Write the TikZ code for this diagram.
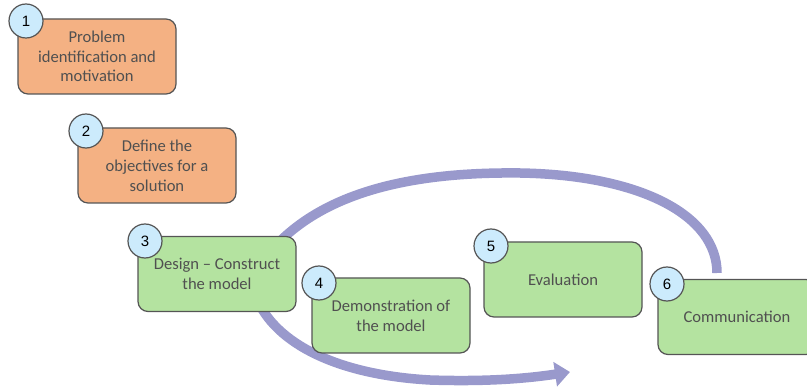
\documentclass[tikz,border=0pt]{standalone}
\usepackage{fontspec}
\setmainfont{Carlito}
\newfontfamily\numfont{Liberation Sans}
\usetikzlibrary{arrows.meta,backgrounds,calc}
\definecolor{stepOrange}{HTML}{F4B183}
\definecolor{stepGreen}{HTML}{B4E3A0}
\definecolor{badgeBlue}{HTML}{CCEBFC}
\definecolor{loopPurple}{HTML}{9999CC}
\definecolor{edgeGray}{HTML}{555555}
\definecolor{textGray}{HTML}{505050}
\tikzset{
  stepbox/.style={draw=edgeGray, line width=1.2pt, rounded corners=10pt,
    minimum width=158pt, minimum height=75pt, align=center,
    text=textGray, font=\fontsize{16.6}{19.8}\selectfont, inner sep=2pt},
  orangebox/.style={stepbox, fill=stepOrange},
  greenbox/.style={stepbox, fill=stepGreen},
  badge/.style={circle, draw=edgeGray, line width=1.2pt, fill=badgeBlue,
    minimum size=34pt, inner sep=0pt, font=\numfont\fontsize{15}{15}\selectfont},
  loop/.style={draw=loopPurple, line width=9.5pt}
}
\begin{document}
\begin{tikzpicture}[x=1pt,y=-1pt]
  \useasboundingbox (0,0) rectangle (807,390);
  % process steps
  \node[orangebox] (s1) at (97,56.5) {Problem\\identification and\\motivation};
  \node[orangebox] (s2) at (157,165.5) {Define the\\objectives for a\\solution};
  \node[greenbox]  (s3) at (217,274) {Design -- Construct\\the model};
  \node[greenbox]  (s4) at (391,315.5) {Demonstration of\\the model};
  \node[greenbox]  (s5) at (563,279.5) {Evaluation};
  \node[greenbox]  (s6) at (737,317) {Communication};
  % numbered badges
  \node[badge] (n1) at (26,21) {1};
  \node[badge] (n2) at (86,131) {2};
  \node[badge] (n3) at (145,241) {3};
  \node[badge] (n4) at (319,283) {4};
  \node[badge] (n5) at (491,246) {5};
  \node[badge] (n6) at (667,284) {6};
  % iteration loop behind the steps
  \begin{scope}[on background layer]
    \coordinate (t0) at ($(s3.north east)+(-24,13)$);
    \coordinate (t1) at (717,273);
    \coordinate (b0) at ($(s3.south east)+(-41,-16)$);
    \coordinate (b1) at (570,372);
    \draw[loop] (t0) .. controls (330,185) and (430,172) .. (520,173)
      .. controls (640,175) and (717,215) .. (t1);
    \draw[loop, -{Triangle[width=24pt,length=15pt]}]
      (b0) .. controls (275,345) and (340,375) .. (430,380)
      .. controls (490,382) and (530,378) .. (b1);
  \end{scope}
\end{tikzpicture}
\end{document}
